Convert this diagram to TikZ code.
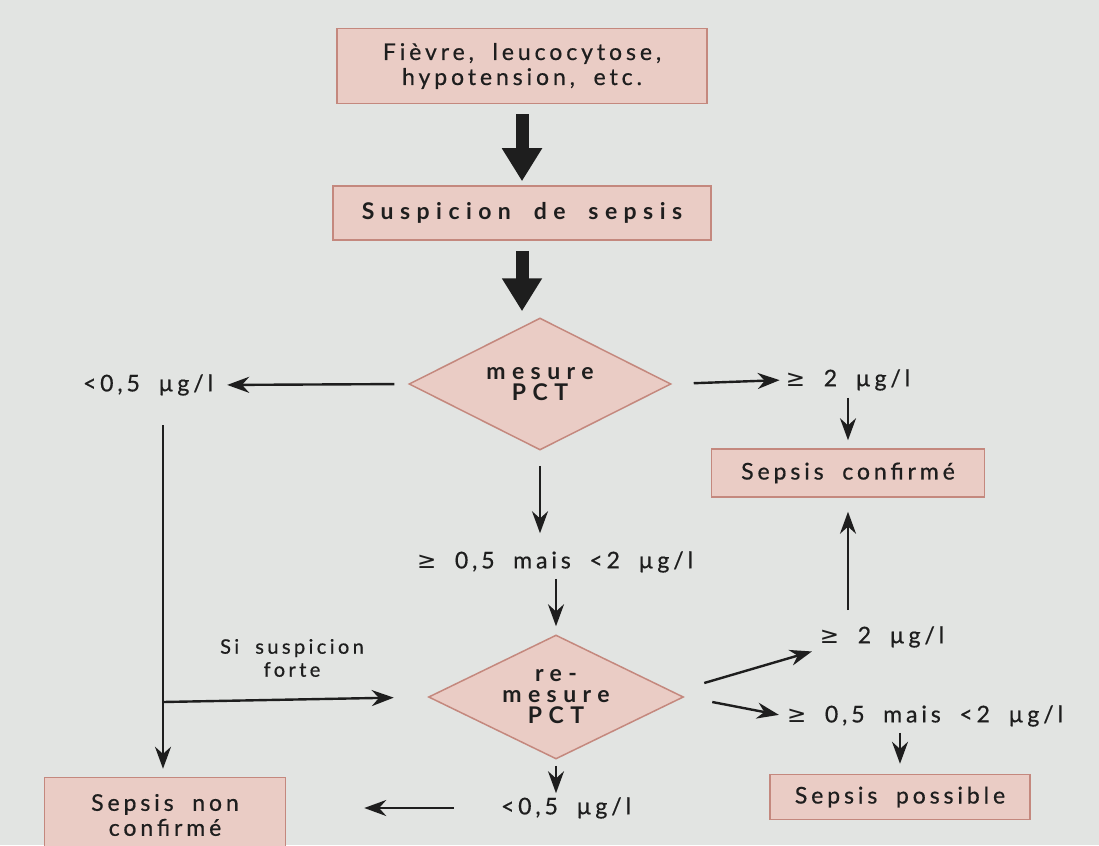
\documentclass[tikz,border=0pt]{standalone}
\usepackage{fontspec}
\setmainfont{Lato}
\newfontfamily\regfam{Lato}[LetterSpace=17,WordSpace=1.9,FakeBold=0.6]
\newfontfamily\boldfam{Lato}[LetterSpace=28,WordSpace=1.9]
\newfontfamily\symf{DejaVu Sans}
\usetikzlibrary{shapes.geometric,arrows.meta}
\definecolor{bg}{RGB}{226,228,226}
\definecolor{boxfill}{RGB}{234,204,197}
\definecolor{boxline}{RGB}{196,136,126}
\definecolor{ink}{RGB}{30,30,30}
\newcommand{\gsym}{{\symf ≥}}
\newcommand{\regf}{\regfam\fontsize{23}{25}\selectfont}
\newcommand{\boldf}{\boldfam\bfseries\fontsize{23}{21}\selectfont}
\begin{document}
\begin{tikzpicture}[x=1pt,y=-1pt, font=\regf,
  box/.style={draw=boxline, line width=1.5pt, fill=boxfill, inner sep=0pt, align=center, text=ink},
  dia/.style={diamond, shape aspect=2, draw=boxline, line width=1.5pt, fill=boxfill, inner sep=0pt, align=center, text=ink, font=\boldf},
  lbl/.style={inner sep=2pt, text=ink},
  arr/.style={draw=ink, line width=2.4pt, -{Stealth[length=22pt,width=16pt]}},
  big/.style={draw=ink, line width=13pt, -{Triangle[length=33pt,width=38pt]}}]
\fill[bg] (0,0) rectangle (1099,845);
\clip (0,0) rectangle (1099,845);
\useasboundingbox (0,0) rectangle (1099,845);

\node[box, minimum width=370pt, minimum height=75pt] (b1) at (522,66) {Fièvre, leucocytose,\\hypotension, etc.};
\node[box, minimum width=378pt, minimum height=54pt, font=\boldf] (b2) at (522,213) {Suspicion de sepsis};
\node[dia, minimum width=262pt, minimum height=132pt] (d1) at (540,384) {mesure\\PCT};
\node[lbl] (lt1) at (148,385) {<\,0,5 µg/l};
\node[lbl] (ge1) at (848,380) {\gsym\ 2 µg/l};
\node[box, minimum width=273pt, minimum height=48pt] (conf) at (848,473) {Sepsis confirmé};
\node[lbl] (mid) at (555,562) {\gsym\ 0,5 mais <\,2 µg/l};
\node[dia, minimum width=255pt, minimum height=124pt] (d2) at (556,697) {re-\\mesure\\PCT};
\node[box, minimum width=241pt, minimum height=75pt] (nonc) at (165,815) {Sepsis non\\confirmé};
\node[lbl] (lt2) at (566,808) {<\,0,5 µg/l};
\node[lbl] (ge2) at (882,637) {\gsym\ 2 µg/l};
\node[lbl] (mid2) at (925,716) {\gsym\ 0,5 mais <\,2 µg/l};
\node[box, minimum width=260pt, minimum height=45pt] (poss) at (900,797) {Sepsis possible};
\node[lbl, align=center, font=\regfam\fontsize{20}{23}\selectfont] (forte) at (292,658) {Si suspicion\\forte};

\coordinate (vtop) at (163,425);
\coordinate (vbr) at (163,702);

\draw[big, shorten <=10pt, shorten >=4pt] (b1.south) -- (b2.north);
\draw[big, shorten <=10pt, shorten >=6pt] (b2.south) -- (b2.south |- d1.north);
\draw[arr, shorten <=14pt, shorten >=12pt] (d1.west) -- (lt1.east);
\draw[arr, shorten <=22pt, shorten >=4pt] (d1.east) -- (ge1.west);
\draw[arr, shorten <=5pt, shorten >=8pt] (ge1.south -| conf.north) -- (conf.north);
\draw[arr, shorten <=15pt, shorten >=16pt] (d1.south) -- (d1.south |- mid.north);
\draw[arr, shorten <=4pt, shorten >=8pt] (d2.north |- mid.south) -- (d2.north);
\draw[arr, shorten >=8pt] (vtop) -- (vtop |- nonc.north);
\draw[arr, shorten >=34pt] (vbr) -- (d2.west);
\draw[arr, shorten <=6pt, shorten >=2pt] (d2.south) -- (d2.south |- lt2.north);
\draw[arr, shorten <=45pt, shorten >=78pt] (lt2.west) -- (lt2.west -| nonc.east);
\draw[arr, shorten >=6pt] ([shift={(20,-14)}]d2.east) -- (ge2.south west);
\draw[arr, shorten <=14pt, shorten >=14pt] (ge2.north -| conf.south) -- (conf.south);
\draw[arr, shorten >=6pt] ([shift={(28,5)}]d2.east) -- (mid2.west);
\draw[arr, shorten <=4pt, shorten >=10pt] (mid2.south -| poss.north) -- (poss.north);
\end{tikzpicture}
\end{document}
